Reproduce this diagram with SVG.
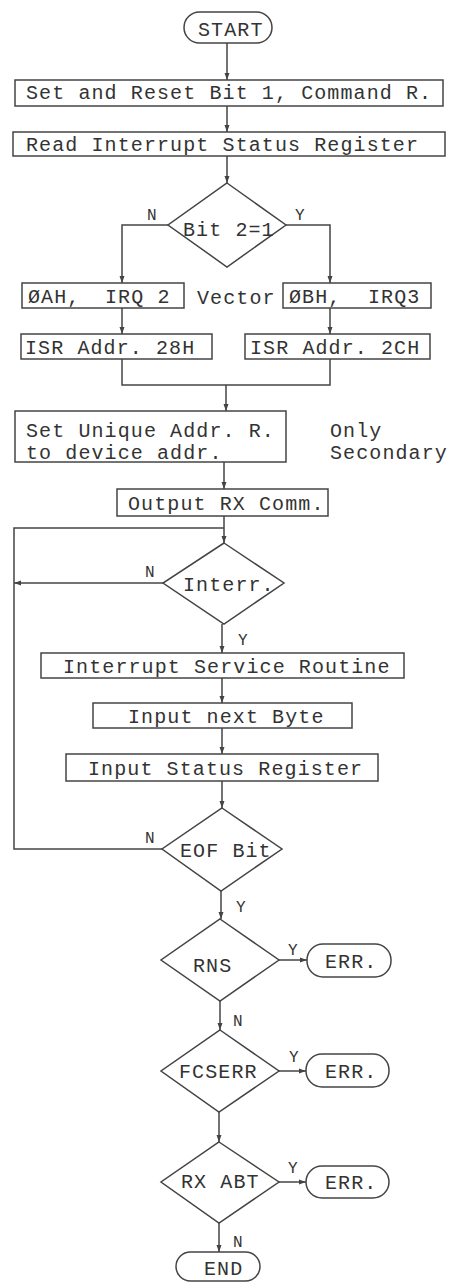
<svg xmlns="http://www.w3.org/2000/svg" width="449" height="1282" viewBox="0 0 449 1282">
<style>
.n{fill:#fff;stroke:#444;stroke-width:1.5}
.c{fill:none;stroke:#444;stroke-width:1.5}
text{font-family:"Liberation Mono","DejaVu Sans Mono",monospace;fill:#333}
.t{font-size:20px;letter-spacing:1.1px}
.l{font-size:16px}
</style>
<defs>
<marker id="a" markerUnits="userSpaceOnUse" markerWidth="8" markerHeight="8" refX="7" refY="4" orient="auto">
<path d="M0,1.5 L7,4 L0,6.5 Z" fill="#444"/>
</marker>
</defs>
<rect width="449" height="1282" fill="#fff"/>
<g id="connectors">
<path class="c" d="M227,43 V80" marker-end="url(#a)"/>
<path class="c" d="M227,106 V132" marker-end="url(#a)"/>
<path class="c" d="M227,156 V183" marker-end="url(#a)"/>
<path class="c" d="M168,225 H122 V283" marker-end="url(#a)"/>
<path class="c" d="M286,225 H330 V283" marker-end="url(#a)"/>
<path class="c" d="M122,308 V334" marker-end="url(#a)"/>
<path class="c" d="M330,308 V334" marker-end="url(#a)"/>
<path class="c" d="M122,359 V385 H330 V359"/>
<path class="c" d="M226,385 V411" marker-end="url(#a)"/>
<path class="c" d="M224,462 V489" marker-end="url(#a)"/>
<path class="c" d="M224,516 V543" marker-end="url(#a)"/>
<path class="c" d="M163,583 H14" marker-end="url(#a)"/>
<path class="c" d="M162,849 H14 V528 H224"/>
<path class="c" d="M222,624 V653" marker-end="url(#a)"/>
<path class="c" d="M222,678 V703" marker-end="url(#a)"/>
<path class="c" d="M222,728 V754" marker-end="url(#a)"/>
<path class="c" d="M222,781 V808" marker-end="url(#a)"/>
<path class="c" d="M221,891 V919" marker-end="url(#a)"/>
<path class="c" d="M279,960 H307" marker-end="url(#a)"/>
<path class="c" d="M220,1001 V1030" marker-end="url(#a)"/>
<path class="c" d="M279,1071 H306" marker-end="url(#a)"/>
<path class="c" d="M219,1112 V1142" marker-end="url(#a)"/>
<path class="c" d="M279,1182 H306" marker-end="url(#a)"/>
<path class="c" d="M219,1223 V1252" marker-end="url(#a)"/>
<text class="l" x="147" y="220">N</text>
<text class="l" x="295" y="220">Y</text>
<text class="l" x="145" y="577">N</text>
<text class="l" x="238" y="645">Y</text>
<text class="l" x="145" y="843">N</text>
<text class="l" x="236" y="912">Y</text>
<text class="l" x="288" y="955">Y</text>
<text class="l" x="233" y="1026">N</text>
<text class="l" x="289" y="1062">Y</text>
<text class="l" x="288" y="1173">Y</text>
<text class="l" x="233" y="1247">N</text>
</g>
<g id="start"><rect class="n" x="184" y="12" width="88" height="31" rx="15.5"/><text class="t" x="198" y="36">START</text></g>
<g id="setreset"><rect class="n" x="15" y="80" width="428" height="26"/><text class="t" x="26" y="99">Set and Reset Bit 1, Command R.</text></g>
<g id="readisr"><rect class="n" x="13" y="132" width="432" height="24"/><text class="t" x="26" y="151">Read Interrupt Status Register</text></g>
<g id="bit2"><polygon class="n" points="227,183 286,225 227,267 168,225"/><text class="t" x="183" y="236">Bit 2=1</text></g>
<g id="vec0a"><rect class="n" x="22" y="283" width="162" height="25"/><text class="t" x="28" y="303">ØAH, <tspan x="105">IRQ 2</tspan></text></g>
<g id="vectorlabel"><text class="t" x="197" y="304">Vector</text></g>
<g id="vec0b"><rect class="n" x="283" y="283" width="148" height="25"/><text class="t" x="289" y="303">ØBH, <tspan x="368">IRQ3</tspan></text></g>
<g id="isr28"><rect class="n" x="21" y="334" width="191" height="25"/><text class="t" x="25" y="354">ISR Addr. 28H</text></g>
<g id="isr2c"><rect class="n" x="245" y="334" width="185" height="25"/><text class="t" x="250" y="354">ISR Addr. 2CH</text></g>
<g id="setunique"><rect class="n" x="15" y="411" width="271" height="51"/><text class="t" x="26" y="437">Set Unique Addr. R.</text><text class="t" x="26" y="459">to device addr.</text></g>
<g id="onlysec"><text class="t" x="330" y="437">Only</text><text class="t" x="330" y="459">Secondary</text></g>
<g id="outrx"><rect class="n" x="117" y="489" width="211" height="27"/><text class="t" x="128" y="510">Output RX Comm.</text></g>
<g id="interr"><polygon class="n" points="224,543 284,583 224,624 163,583"/><text class="t" x="183" y="591">Interr.</text></g>
<g id="isrbox"><rect class="n" x="41" y="653" width="363" height="25"/><text class="t" x="63" y="673">Interrupt Service Routine</text></g>
<g id="inbyte"><rect class="n" x="93" y="703" width="259" height="25"/><text class="t" x="128" y="723">Input next Byte</text></g>
<g id="instat"><rect class="n" x="66" y="754" width="312" height="27"/><text class="t" x="88" y="775">Input Status Register</text></g>
<g id="eof"><polygon class="n" points="222,808 282,849 221,891 162,849"/><text class="t" x="180" y="857">EOF Bit</text></g>
<g id="rns"><polygon class="n" points="220,919 279,960 220,1001 161,960"/><text class="t" x="193" y="972">RNS</text></g>
<g id="err1"><rect class="n" x="307" y="944" width="84" height="33" rx="16"/><text class="t" x="325" y="968">ERR.</text></g>
<g id="fcserr"><polygon class="n" points="220,1030 279,1071 219,1112 161,1071"/><text class="t" x="179" y="1078">FCSERR</text></g>
<g id="err2"><rect class="n" x="306" y="1054" width="83" height="33" rx="16"/><text class="t" x="325" y="1078">ERR.</text></g>
<g id="rxabt"><polygon class="n" points="219,1142 279,1182 219,1223 161,1182"/><text class="t" x="181" y="1188">RX ABT</text></g>
<g id="err3"><rect class="n" x="306" y="1166" width="83" height="32" rx="16"/><text class="t" x="325" y="1189">ERR.</text></g>
<g id="end"><rect class="n" x="176" y="1252" width="84" height="29" rx="14.5"/><text class="t" x="204" y="1275">END</text></g>
</svg>
